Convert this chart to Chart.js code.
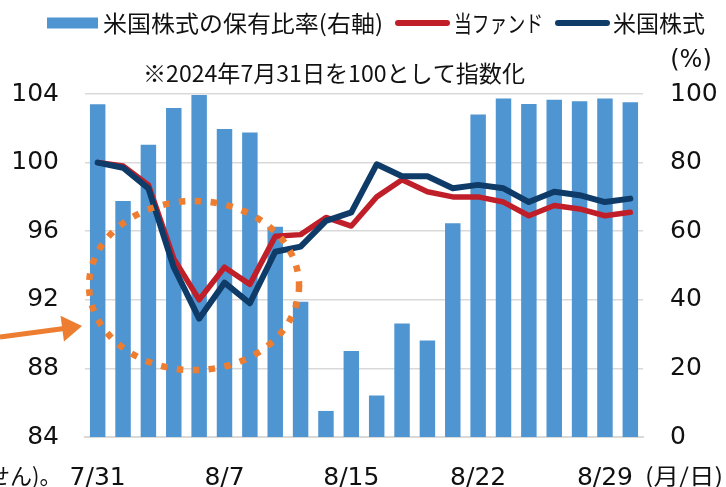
<!DOCTYPE html>
<html><head><meta charset="utf-8">
<script src="https://cdn.jsdelivr.net/npm/chart.js@4"></script>
<style>html,body{margin:0;padding:0;background:#fff;} #wrap{width:726px;height:487px;}</style>
</head><body><div id="wrap"><canvas id="c" width="726" height="487"></canvas></div>
<script>
// ---- data ----
const categories = ['7/31','8/1','8/2','8/5','8/6','8/7','8/8','8/9','8/13','8/14','8/15','8/16','8/19','8/20','8/21','8/22','8/23','8/26','8/27','8/28','8/29','8/30'];
const holdingRatio = [97.0, 68.8, 85.2, 95.9, 99.7, 89.8, 88.8, 61.3, 39.4, 7.6, 25.1, 12.1, 33.1, 28.1, 62.3, 94.0, 98.7, 97.1, 98.3, 97.9, 98.7, 97.6];
const fundIndex    = [100.0, 99.8, 98.7, 94.4, 92.0, 93.9, 92.9, 95.7, 95.8, 96.8, 96.3, 98.0, 99.0, 98.3, 98.0, 98.0, 97.7, 96.9, 97.5, 97.3, 96.9, 97.1];
const usStockIndex = [100.0, 99.7, 98.5, 93.9, 90.9, 93.0, 91.8, 94.8, 95.1, 96.6, 97.1, 99.9, 99.2, 99.2, 98.5, 98.7, 98.5, 97.7, 98.3, 98.1, 97.7, 97.9];
const shownDateLabels = ['7/31','8/7','8/15','8/22','8/29'];
const seriesNames = ['米国株式の保有比率(右軸)', '当ファンド', '米国株式'];
const leftAxisRange = [84, 104, 4];
const rightAxisRange = [0, 100, 20];
const noteText = '※2024年7月31日を100として指数化';
const unitRight = '(%)';
const unitX = '(月/日)';
const cutText = 'せん)。';

const COLORS = { bar: '#4F95D1', fund: '#C01F2A', us: '#0F3B69', orange: '#ED7D31', grid: '#D9D9D9', text: '#111111' };
const CJK = '"Noto Sans CJK JP", sans-serif';
const SANS = '"DejaVu Sans", sans-serif';

function fitText(ctx, text, x, y, w) {
  const m = ctx.measureText(text).width;
  ctx.save();
  ctx.textAlign = 'left';
  ctx.translate(x, y);
  ctx.scale(w / m, 1);
  ctx.fillText(text, 0, 0);
  ctx.restore();
}

const overlay = {
  id: 'overlay',
  afterDatasetsDraw(chart) {
    const { ctx } = chart;
    const x = chart.scales.x, y = chart.scales.y;
    const cxV = 3.8, cyV = 92.83, rxV = 4.14, ryV = 4.93;
    const cx = x.getPixelForValue(cxV), cy = y.getPixelForValue(cyV);
    const rx = x.getPixelForValue(cxV + rxV) - cx;
    const ry = y.getPixelForValue(cyV - ryV) - cy;
    ctx.save();
    ctx.strokeStyle = COLORS.orange;
    ctx.lineWidth = 6.5;
    ctx.setLineDash([6.5, 9.5]);
    ctx.beginPath();
    ctx.ellipse(cx, cy, rx, ry, 0, 0, Math.PI * 2);
    ctx.stroke();
    ctx.setLineDash([]);
    // arrow
    const tipX = cx - rx - 7, tipY = cy + 40.5;
    const sx = 0, sy = tipY + 11;
    const ang = Math.atan2(tipY - sy, tipX - sx);
    const hl = 20, hw = 13;
    const bx = tipX - hl * Math.cos(ang), by = tipY - hl * Math.sin(ang);
    ctx.lineWidth = 5;
    ctx.beginPath(); ctx.moveTo(sx, sy); ctx.lineTo(bx + 2 * Math.cos(ang), by + 2 * Math.sin(ang)); ctx.stroke();
    ctx.fillStyle = COLORS.orange;
    ctx.beginPath();
    ctx.moveTo(tipX, tipY);
    ctx.lineTo(bx - hw * Math.sin(ang), by + hw * Math.cos(ang));
    ctx.lineTo(bx + hw * Math.sin(ang), by - hw * Math.cos(ang));
    ctx.closePath(); ctx.fill();
    ctx.restore();
  },
  afterDraw(chart) {
    const { ctx } = chart;
    const ds = chart.data.datasets;
    ctx.save();
    ctx.textBaseline = 'middle';
    ctx.fillStyle = COLORS.text;
    // legend
    const ly = 23;
    const items = [
      { sw: 47, tx: 103, tw: 280 },
      { sw: 395, tx: 454, tw: 89 },
      { sw: 555, tx: 613, tw: 92 }
    ];
    ctx.font = '23px ' + CJK;
    ds.forEach((d, i) => {
      const it = items[i];
      if (d.type === 'line') {
        ctx.strokeStyle = d.borderColor; ctx.lineWidth = 6; ctx.lineCap = 'round';
        ctx.beginPath(); ctx.moveTo(it.sw + 3, ly); ctx.lineTo(it.sw + 52, ly); ctx.stroke();
      } else {
        ctx.fillStyle = d.backgroundColor; ctx.fillRect(it.sw, ly - 5.5, 51, 11);
      }
      ctx.fillStyle = COLORS.text;
      fitText(ctx, d.label, it.tx, ly, it.tw);
    });
    // note
    fitText(ctx, noteText, 143, 73, 382);
    ctx.font = '24px ' + SANS;
    ctx.textAlign = 'center';
    ctx.fillText(unitRight, 691, 61);
    ctx.font = '22px ' + CJK;
    fitText(ctx, unitX, 645, 476, 78);
    ctx.textAlign = 'left';
    ctx.fillText(cutText, -12, 476);
    ctx.restore();
  }
};

new Chart(document.getElementById('c'), {
  type: 'bar',
  data: {
    labels: categories,
    datasets: [
      { type: 'bar', label: seriesNames[0], data: holdingRatio, yAxisID: 'y1', backgroundColor: COLORS.bar, borderWidth: 0, barPercentage: 0.61, categoryPercentage: 1.0, order: 3 },
      { type: 'line', label: seriesNames[1], data: fundIndex, yAxisID: 'y', borderColor: COLORS.fund, backgroundColor: COLORS.fund, borderWidth: 5.5, pointRadius: 0, tension: 0, borderJoinStyle: 'round', borderCapStyle: 'round', order: 2 },
      { type: 'line', label: seriesNames[2], data: usStockIndex, yAxisID: 'y', borderColor: COLORS.us, backgroundColor: COLORS.us, borderWidth: 6, pointRadius: 0, tension: 0, borderJoinStyle: 'round', borderCapStyle: 'round', order: 1 }
    ]
  },
  options: {
    responsive: false,
    animation: false,
    events: [],
    layout: { padding: { top: 94, left: 0, right: 0, bottom: 0 } },
    plugins: { legend: { display: false }, title: { display: false }, tooltip: { enabled: false } },
    scales: {
      x: {
        offset: true,
        grid: { display: false, drawTicks: false },
        border: { display: true, color: COLORS.grid, width: 2 },
        ticks: {
          autoSkip: false, maxRotation: 0, minRotation: 0, padding: 26,
          color: COLORS.text, font: { family: 'DejaVu Sans', size: 25 },
          callback: function (v) { const l = this.getLabelForValue(v); return shownDateLabels.includes(l) ? l : ''; }
        },
        afterFit: s => { s.height = 50; }
      },
      y: {
        position: 'left', min: leftAxisRange[0], max: leftAxisRange[1],
        grid: { color: COLORS.grid, lineWidth: 1.5, drawTicks: false },
        border: { display: false },
        ticks: { stepSize: leftAxisRange[2], padding: 26, color: COLORS.text, font: { family: 'DejaVu Sans', size: 25 } },
        afterFit: s => { s.width = 85; }
      },
      y1: {
        position: 'right', min: rightAxisRange[0], max: rightAxisRange[1],
        grid: { display: false, drawTicks: false },
        border: { display: false },
        ticks: { stepSize: rightAxisRange[2], padding: 27, color: COLORS.text, font: { family: 'DejaVu Sans', size: 25 } },
        afterFit: s => { s.width = 83; }
      }
    }
  },
  plugins: [overlay]
});
</script>
</body></html>
